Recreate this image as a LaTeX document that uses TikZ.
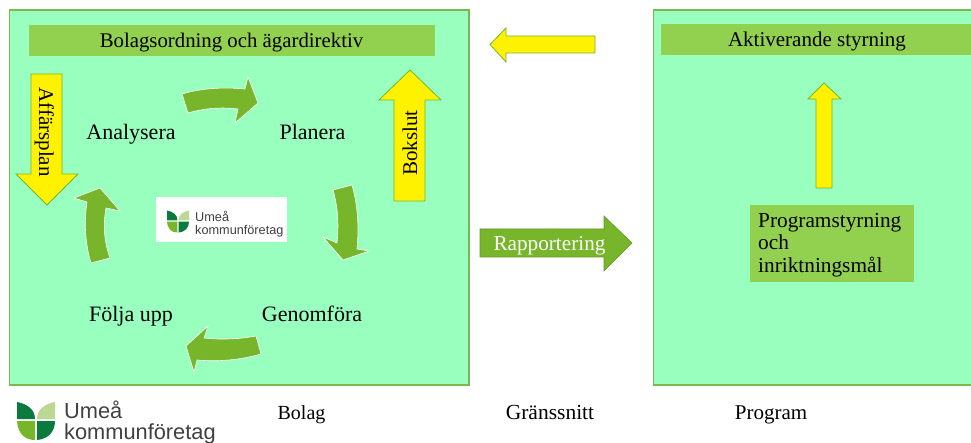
\documentclass[tikz,border=0pt]{standalone}
\usepackage{fontspec}
\setmainfont{Liberation Serif}
\newfontfamily\logofont{Liberation Sans}
\definecolor{panelfill}{HTML}{99FFBF}
\definecolor{panelline}{HTML}{7CB850}
\definecolor{barfill}{HTML}{92D050}
\definecolor{leafmid}{HTML}{77B52B}
\definecolor{leafdark}{HTML}{0B7A3E}
\definecolor{leaflight}{HTML}{BDD895}
\definecolor{logotext}{HTML}{404040}
\tikzset{
  panel/.style={fill=panelfill,draw=panelline,line width=1.5pt},
  bar/.style={fill=barfill,draw=none},
  yellowarrow/.style={fill=yellow,draw=leafmid,line width=0.8pt,line join=miter},
  cyclearrow/.style={fill=leafmid,draw=white,line width=0.6pt,line join=miter},
  greenarrow/.style={fill=leafmid,draw=leafmid!85!black,line width=0.6pt},
  label/.style={inner sep=0pt,anchor=base,font=\fontsize{21}{24}\selectfont,text=black},
  cyclelabel/.style={label,font=\fontsize{22}{25}\selectfont},
  footlabel/.style={label,font=\fontsize{21}{24}\selectfont},
  logoword/.style={inner sep=0pt,anchor=base west,text=logotext},
  logoleaf/.pic={
    \fill[leafdark] (0,0) .. controls (10,2) and (18,7) .. (18,17) -- (0,17) -- cycle;
    \fill[leaflight] (38,0) .. controls (28,2) and (20,7) .. (20,17) -- (38,17) -- cycle;
    \fill[leafmid] (0,19) -- (18,19) -- (18,38) .. controls (8,38) and (1,32) .. (0,19) -- cycle;
    \fill[leafdark] (20,19) -- (38,19) .. controls (38,30) and (31,37) .. (20,38) -- cycle;
  }
}
\begin{document}
\begin{tikzpicture}[x=1pt,y=-1pt]
\useasboundingbox (0,0) rectangle (971,443);
\fill[white] (0,0) rectangle (971,443);
% panels
\draw[panel] (9.5,10) rectangle (469,385);
\draw[panel] (653.5,10) rectangle (980,385);
% bars
\fill[bar] (29,25) rectangle (435,56);
\fill[bar] (661,24) rectangle (975,55);
\fill[bar] (750,205) rectangle (914,282);
% yellow arrows
\draw[yellowarrow] (31,74) -- (62,74) -- (62,174) -- (78,174) -- (47,205) -- (16,174) -- (31,174) -- cycle;
\draw[yellowarrow] (394,201) -- (425,201) -- (425,100) -- (441,100) -- (410,70) -- (379,100) -- (394,100) -- cycle;
\draw[yellowarrow] (490,44.5) -- (506,28) -- (506,36) -- (595,36) -- (595,53) -- (506,53) -- (506,62) -- cycle;
\draw[yellowarrow] (824,83) -- (841,99) -- (832,99) -- (832,188) -- (816,188) -- (816,99) -- (808,99) -- cycle;
% green straight arrow
\draw[greenarrow] (480,229) -- (604,229) -- (604,216) -- (632,243) -- (604,271) -- (604,257) -- (480,257) -- cycle;
% cycle arrows
\draw[cyclearrow] (182,94) .. controls (202,88) and (224,87) .. (245,89) -- (248,77) -- (258,103) -- (235,123) -- (238,109) .. controls (222,107) and (205,108) .. (188,113) -- cycle;
\draw[cyclearrow] (333,190) -- (352,185) .. controls (358,206) and (359,228) .. (357,249) -- (369,251) -- (343,260) -- (323,237) -- (337,243) .. controls (339,225) and (338,207) .. (333,190) -- cycle;
\draw[cyclearrow] (256,336) -- (261,354) .. controls (240,360) and (218,362) .. (197,360) -- (194,372) -- (186,346) -- (208,326) -- (204,338) .. controls (222,340) and (240,339) .. (256,336) -- cycle;
\draw[cyclearrow] (91,263) -- (110,258) .. controls (104,242) and (103,225) .. (106,208) -- (120,211) -- (100,188) -- (74,198) -- (87,202) .. controls (84,222) and (85,243) .. (91,263) -- cycle;
% text
\node[label,font=\fontsize{20.8}{24}\selectfont] (bolagsordning) at (231.5,48) {Bolagsordning och ägardirektiv};
\node[cyclelabel] (analysera) at (131,140) {Analysera};
\node[cyclelabel] (planera) at (312.5,140) {Planera};
\node[cyclelabel] (foelja) at (131,321) {Följa upp};
\node[cyclelabel] (genomfoera) at (312,321) {Genomföra};
\node[label,rotate=-90] (affaersplan) at (39,132) {Affärsplan};
\node[label,rotate=90] (bokslut) at (417,143) {Bokslut};
\node[label] (aktiverande) at (817,47) {Aktiverande styrning};
\node[label,text=white,font=\fontsize{21.2}{24}\selectfont] (rapportering) at (549.5,251) {Rapportering};
\node[label,anchor=base west,font=\fontsize{21.3}{24}\selectfont] (prog1) at (758,228) {Programstyrning};
\node[label,anchor=base west,font=\fontsize{21.3}{24}\selectfont] (prog2) at (758,250) {och};
\node[label,anchor=base west,font=\fontsize{21.3}{24}\selectfont] (prog3) at (758,273) {inriktningsmål};
\node[label,font=\fontsize{20}{24}\selectfont] (bolag) at (301.5,419) {Bolag};
\node[footlabel,font=\fontsize{21.5}{24}\selectfont] (granssnitt) at (550,419) {Gränssnitt};
\node[footlabel] (program) at (771,419) {Program};
% small logo
\fill[white] (156,197) rectangle (287,242);
\pic[shift={(167,210.5)},scale=0.58,transform shape] {logoleaf};
\node[logoword,font=\logofont\fontsize{12.7}{15}\selectfont,text=logotext] (logosmall1) at (195,222) {Umeå};
\node[logoword,font=\logofont\fontsize{12.7}{15}\selectfont] (logosmall2) at (195,234.5) {kommunföretag};
% large logo
\pic[shift={(17,402)}] {logoleaf};
\node[logoword,font=\logofont\fontsize{21.8}{26}\selectfont] (logolarge1) at (64,418) {Umeå};
\node[logoword,font=\logofont\fontsize{21.8}{26}\selectfont] (logolarge2) at (64,439) {kommunföretag};
\end{tikzpicture}
\end{document}
